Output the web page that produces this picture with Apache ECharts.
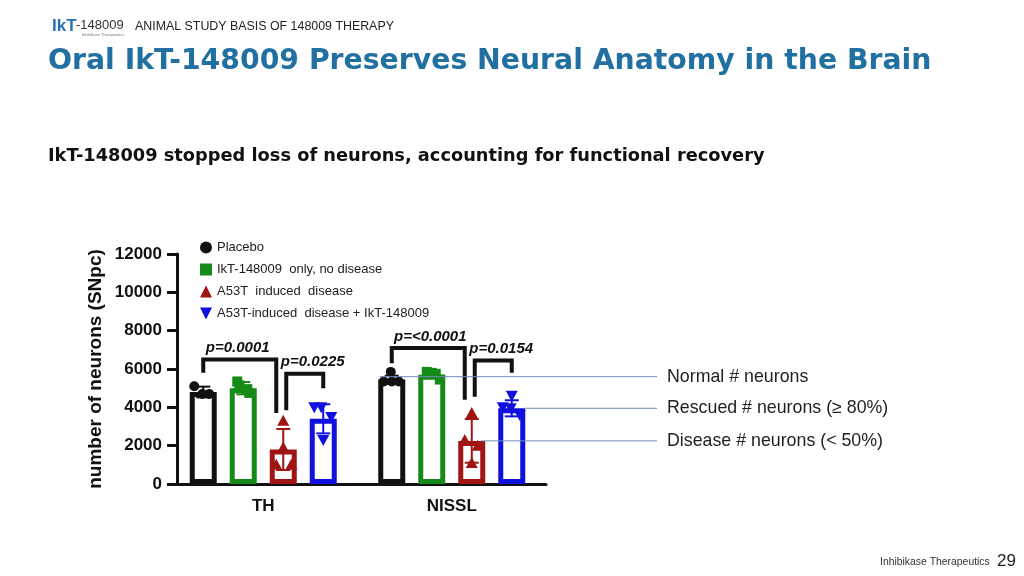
<!DOCTYPE html>
<html><head><meta charset="utf-8">
<script src="https://cdn.jsdelivr.net/npm/echarts@6/dist/echarts.min.js"></script>
<style>html,body{margin:0;padding:0;background:#fff}#c{width:1024px;height:576px}</style>
</head><body><div id="c"></div>
<script>
// ---------- DATA ----------
const categories = ['TH', 'NISSL'];
const groupNames = ['Placebo', 'IkT-148009  only, no disease', 'A53T  induced  disease', 'A53T-induced  disease + IkT-148009'];
const placeboMean = [4800, 5450];
const iktOnlyMean = [5000, 5700];
const a53tMean = [1800, 2250];
const a53tIktMean = [3400, 3950];
const placeboSD = [280, 200];
const iktOnlySD = [320, 130];
const a53tSD = [1070, 1140];
const a53tIktSD = [760, 420];
const placeboPoints = [[5100, 4700, 4700], [5850, 5350, 5350, 5350]];
const iktOnlyPoints = [[5350, 5150, 4950, 4750], [5850, 5800, 5750, 5450]];
const a53tPoints = [[3300, 1900, 1000, 1000], [3700, 2300, 2000, 1100]];
const a53tIktPoints = [[4000, 4000, 3500, 2300], [4600, 4000, 3950, 3600]];
const yMin = 0, yMax = 12000, yInterval = 2000;
const pLabels = ['p=0.0001', 'p=0.0225', 'p=<0.0001', 'p=0.0154'];
const bracketCat = [0, 0, 1, 1];
const bracketFrom = [0, 2, 0, 2];
const bracketTo = [2, 3, 2, 3];
const bracketTop = [6500, 5750, 7100, 6450];
const bracketLeftEnd = [5800, 3850, 6300, 4550];
const bracketRightEnd = [3700, 5000, 4400, 5800];
const refLabels = ['Normal # neurons', 'Rescued # neurons (\u2265 80%)', 'Disease # neurons (< 50%)'];
const refValues = [5600, 3950, 2250];
const refFromGroup = [0, 3, 2];

// ---------- STYLE ----------
const means = [placeboMean, iktOnlyMean, a53tMean, a53tIktMean];
const sds = [placeboSD, iktOnlySD, a53tSD, a53tIktSD];
const points = [placeboPoints, iktOnlyPoints, a53tPoints, a53tIktPoints];
const colors = ['#111111', '#168a16', '#a01414', '#1010e0'];
const shapes = ['circle', 'square', 'triangle', 'downTriangle'];
const jitter = [
  [[-9, -1, 6], [-1, -8, 0, 7]],
  [[-6, -4, 4, 6], [-5, 0, 4, 8]],
  [[0, 0, -7, 8], [0, -7, 6, 0]],
  [[-9, -2, 8, 0], [0, -9, -1, 8]]
];
const BAR_STEP = 40, BAR_W = 27;
const refStartShift = [-12, 12, 9];
const REF_LINE_END = 657, REF_TEXT_X = 667;
const legShiftRight = {2: -7}, legShiftLeft = {2: 3};
const pLabelShift = [-2, 8, 2, 8];
const FONT = '"Liberation Sans", Arial, sans-serif';

function barCenter(api, ci, gi) { return api.coord([ci, 0])[0] + (gi - 1.5) * BAR_STEP; }

function marker(shape, x, y, color) {
  const s = 5;
  if (shape === 'circle') return {type: 'circle', shape: {cx: x, cy: y, r: s}, style: {fill: color}};
  if (shape === 'square') return {type: 'rect', shape: {x: x - s, y: y - s, width: 2 * s, height: 2 * s}, style: {fill: color}};
  if (shape === 'triangle') return {type: 'polygon', shape: {points: [[x, y - 6], [x - 6, y + 5], [x + 6, y + 5]]}, style: {fill: color}};
  return {type: 'polygon', shape: {points: [[x - 6, y - 5], [x + 6, y - 5], [x, y + 6]]}, style: {fill: color}};
}

function groupRender(gi) {
  return function (params, api) {
    const ci = params.dataIndex;
    const x = barCenter(api, ci, gi);
    const m = means[gi][ci], sd = sds[gi][ci];
    const yt = api.coord([ci, m + sd])[1], yb = api.coord([ci, Math.max(0, m - sd)])[1];
    const c = colors[gi];
    const ls = {stroke: c, lineWidth: 2};
    const children = [
      {type: 'line', shape: {x1: x, y1: yt, x2: x, y2: yb}, style: ls},
      {type: 'line', shape: {x1: x - 7, y1: yt, x2: x + 7, y2: yt}, style: ls},
      {type: 'line', shape: {x1: x - 7, y1: yb, x2: x + 7, y2: yb}, style: ls}
    ];
    points[gi][ci].forEach((v, k) => {
      children.push(marker(shapes[gi], x + jitter[gi][ci][k], api.coord([ci, v])[1], c));
    });
    return {type: 'group', children};
  };
}

const legendIcons = ['circle', 'rect', 'triangle', 'path://M0,0 L10,0 L5,10 Z'];

const series = [];
means.forEach((arr, gi) => {
  series.push({
    name: groupNames[gi], type: 'bar', data: arr, barWidth: BAR_W, barGap: ((BAR_STEP - BAR_W) / BAR_W * 100) + '%',
    itemStyle: {color: '#ffffff', borderColor: colors[gi], borderWidth: 5}, silent: true, z: 2
  });
});
means.forEach((arr, gi) => {
  series.push({
    type: 'custom', renderItem: groupRender(gi), data: arr.map((v, i) => [i, v]), z: 3, silent: true
  });
});
series.push({
  type: 'custom', z: 4, silent: true,
  data: bracketCat.map((c, i) => [c, bracketTop[i]]),
  renderItem: function (params, api) {
    const i = params.dataIndex, ci = bracketCat[i];
    const xl = barCenter(api, ci, bracketFrom[i]) + (legShiftLeft[bracketFrom[i]] || 0);
    const xr = barCenter(api, ci, bracketTo[i]) + (legShiftRight[bracketTo[i]] || 0);
    const yTop = api.coord([ci, bracketTop[i]])[1];
    const yl = api.coord([ci, bracketLeftEnd[i]])[1];
    const yr = api.coord([ci, bracketRightEnd[i]])[1];
    return {type: 'group', children: [
      {type: 'polyline', shape: {points: [[xl, yl], [xl, yTop], [xr, yTop], [xr, yr]]}, style: {stroke: '#111', lineWidth: 4, fill: null, lineJoin: 'miter'}},
      {type: 'text', style: {text: pLabels[i], x: (xl + xr) / 2 + pLabelShift[i], y: yTop - 4, align: 'center', verticalAlign: 'bottom', fill: '#111', font: 'italic bold 15px ' + FONT}}
    ]};
  }
});
series.push({
  type: 'custom', z: 5, silent: true,
  data: refValues.map(v => [1, v]),
  renderItem: function (params, api) {
    const i = params.dataIndex;
    const x0 = barCenter(api, 1, refFromGroup[i]) + refStartShift[i];
    const y = api.coord([1, refValues[i]])[1];
    return {type: 'group', children: [
      {type: 'line', shape: {x1: x0, y1: y, x2: REF_LINE_END, y2: y}, style: {stroke: '#6f8db8', lineWidth: 1}},
      {type: 'text', style: {text: refLabels[i], x: REF_TEXT_X, y: y, align: 'left', verticalAlign: 'middle', fill: '#222', font: '17.8px ' + FONT}}
    ]};
  }
});

const chart = echarts.init(document.getElementById('c'));
chart.setOption({
  animation: false,
  backgroundColor: '#ffffff',
  grid: {left: 169, right: 478, top: 254, bottom: 92},
  legend: {
    orient: 'vertical', left: 195, top: 236, itemWidth: 12, itemHeight: 12, itemGap: 9,
    textStyle: {fontSize: 13, color: '#222', fontFamily: FONT},
    data: groupNames.map((n, i) => ({name: n, icon: legendIcons[i], itemStyle: {color: colors[i], borderWidth: 0}}))
  },
  xAxis: {
    type: 'category', data: categories,
    axisLine: {lineStyle: {color: '#111', width: 3}},
    axisTick: {alignWithLabel: true, length: 8, lineStyle: {color: '#111', width: 3}},
    axisLabel: {color: '#111', fontWeight: 'bold', fontSize: 17, margin: 14, fontFamily: FONT}
  },
  yAxis: {
    type: 'value', min: yMin, max: yMax, interval: yInterval, offset: -8,
    name: 'number of neurons (SNpc)', nameLocation: 'middle', nameGap: 72,
    nameTextStyle: {color: '#111', fontWeight: 'bold', fontSize: 19, fontFamily: FONT},
    axisLine: {show: true, lineStyle: {color: '#111', width: 3}},
    axisTick: {show: true, length: 10, lineStyle: {color: '#111', width: 3}},
    axisLabel: {color: '#111', fontWeight: 'bold', fontSize: 17, margin: 15, fontFamily: FONT, formatter: v => String(v)},
    splitLine: {show: false}
  },
  series: series,
  graphic: [
    {type: 'text', left: 52, top: 18, style: {text: 'IkT', font: 'bold 17px ' + FONT, fill: '#2a6fb5'}},
    {type: 'text', left: 76, top: 19, style: {text: '-148009', font: '13px ' + FONT, fill: '#333'}},
    {type: 'text', left: 82, top: 33, style: {text: 'Inhibikase Therapeutics', font: '4px ' + FONT, fill: '#777'}},
    {type: 'text', left: 135, top: 21, style: {text: 'ANIMAL STUDY BASIS OF 148009 THERAPY', font: '12.4px ' + FONT, fill: '#222'}},
    {type: 'text', style: {x: 48, y: 62, verticalAlign: 'middle', text: 'Oral IkT-148009 Preserves Neural Anatomy in the Brain', font: 'bold 28.3px "DejaVu Sans", sans-serif', fill: '#2170a2'}},
    {type: 'text', style: {x: 48, y: 156, verticalAlign: 'middle', text: 'IkT-148009 stopped loss of neurons, accounting for functional recovery', font: 'bold 17.8px "DejaVu Sans", sans-serif', fill: '#111'}},
    {type: 'text', left: 880, top: 557, style: {text: 'Inhibikase Therapeutics', font: '10.4px ' + FONT, fill: '#333'}},
    {type: 'text', left: 997, top: 553, style: {text: '29', font: '17px ' + FONT, fill: '#222'}}
  ]
});
</script></body></html>
